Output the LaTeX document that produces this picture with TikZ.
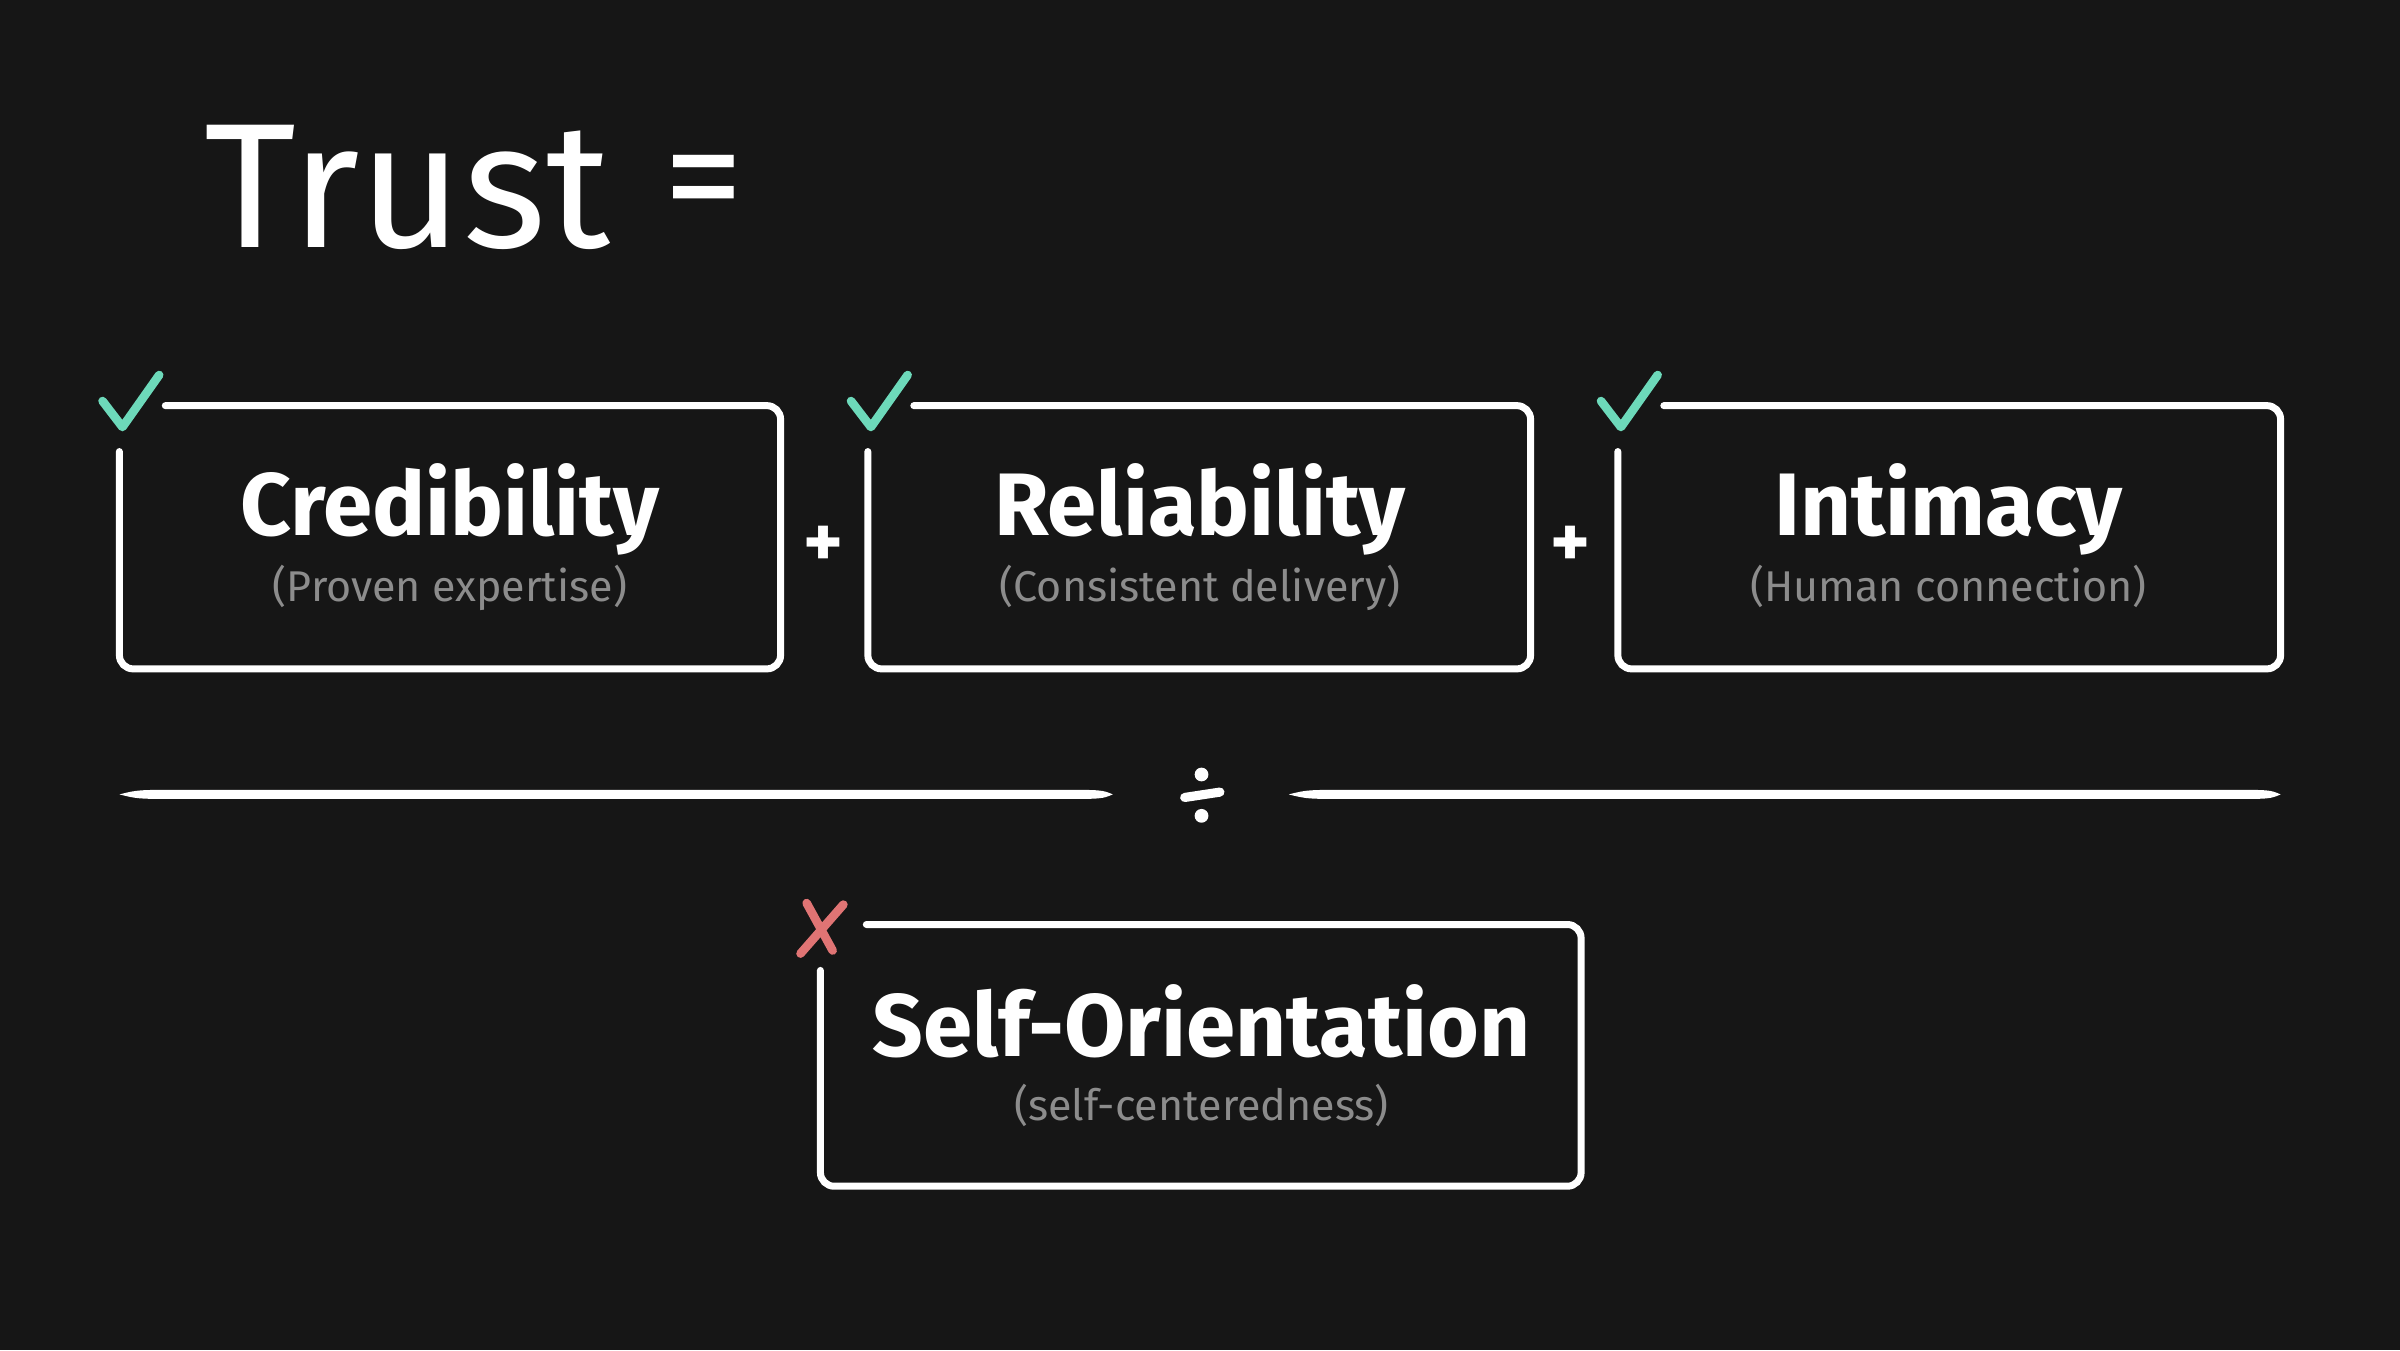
\documentclass[tikz,border=0pt]{standalone}
\usepackage{fontspec}
\setmainfont{Fira Sans}
\definecolor{bg}{HTML}{161616}
\definecolor{checkgreen}{HTML}{6DD9BA}
\definecolor{crossred}{HTML}{E07474}
\definecolor{subgray}{HTML}{8C8C8C}
\newcommand\sketchbox[4]{\draw[box] (#1+30,#2) -- (#3,#2) -- (#3,#4) -- (#1,#4) -- (#1,#2+30);}
\newcommand\checkmk[2]{\draw[checkmk] (#1-13,#2-17) -- (#1,#2) -- (#1+24,#2-34);}
\begin{document}
\begin{tikzpicture}[x=0.1mm,y=-0.1mm,
  box/.style={draw=white,line width=1.3pt,rounded corners=0.9mm,line cap=round},
  title/.style={font=\fontsize{16.5}{20}\selectfont\bfseries,text=white,anchor=base,inner sep=0pt},
  subtitle/.style={font=\fontsize{8}{10}\selectfont,text=subgray,anchor=base,inner sep=0pt},
  checkmk/.style={draw=checkgreen,line width=1.6pt,line cap=round,line join=round},
  crossmk/.style={draw=crossred,line width=1.6pt,line cap=round},
  opsign/.style={font=\fontsize{14}{16}\selectfont\bfseries,text=white,inner sep=0pt},
  divider/.style={fill=white}]
\fill[bg] (0,0) rectangle (1568,882);
\useasboundingbox (0,0) rectangle (1568,882);
% heading
\node[font=\fontsize{33}{36}\selectfont,text=white,anchor=base west,inner sep=0pt] (trust) at (133,162) {Trust};
\node[font=\fontsize{30}{34}\selectfont,text=white,inner sep=0pt] (eq) at (460,126) {=};
% box 1
\sketchbox{78}{265}{510}{437}
\checkmk{80}{279}
\node[title] (cred) at (294,350) {Credibility};
\node[subtitle] (credsub) at (294,393) {(Proven expertise)};
\node[opsign] (plus1) at (538,357) {+};
% box 2
\sketchbox{567}{265}{1000}{437}
\checkmk{569}{279}
\node[title] (rel) at (784,350) {Reliability};
\node[subtitle] (relsub) at (784,393) {(Consistent delivery)};
\node[opsign] (plus2) at (1026,357) {+};
% box 3
\sketchbox{1057}{265}{1490}{437}
\checkmk{1059}{279}
\node[title] (intim) at (1273,350) {Intimacy};
\node[subtitle] (intimsub) at (1273,393) {(Human connection)};
% divider
\fill[divider] (78,519) .. controls (90,516) .. (120,516) -- (690,516) .. controls (720,516) .. (727,519) .. controls (720,522) .. (690,522) -- (120,522) .. controls (90,522) .. (78,519) -- cycle;
\fill[divider] (842,519) .. controls (854,516) .. (884,516) -- (1455,516) .. controls (1483,516) .. (1490,519) .. controls (1483,522) .. (1455,522) -- (884,522) .. controls (854,522) .. (842,519) -- cycle;
\fill[white] (785,506) circle (4.5);
\fill[white] (785,533) circle (4.5);
\draw[white,line width=1.7pt,line cap=round] (774,521) -- (797,517.5);
% box 4
\sketchbox{536}{604}{1033}{775}
\draw[crossmk] (527,590) -- (544,621);
\draw[crossmk] (551,591) -- (523,623);
\node[title] (self) at (785,690) {Self-Orientation};
\node[subtitle] (selfsub) at (785,732) {(self-centeredness)};
\end{tikzpicture}
\end{document}
